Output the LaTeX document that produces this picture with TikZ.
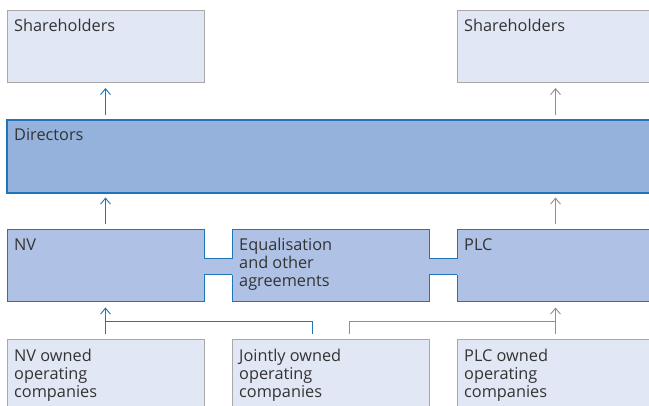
\documentclass[tikz,border=0pt]{standalone}
\usepackage{fontspec}
\setmainfont{Open Sans}
\usetikzlibrary{arrows.meta,calc}
\definecolor{lightfill}{HTML}{E1E7F4}
\definecolor{dirfill}{HTML}{95B2DC}
\definecolor{midfill}{HTML}{AFC2E5}
\definecolor{greybord}{HTML}{A8A8A8}
\definecolor{greyarrow}{HTML}{8F8F8F}
\definecolor{bluebord}{HTML}{1F75BA}
\definecolor{txtcol}{HTML}{333333}
\begin{document}
\begin{tikzpicture}[x=1pt,y=-1pt,
  boxbase/.style={rectangle, anchor=north west, inner sep=0pt, outer sep=0pt, minimum width=197pt, minimum height=72pt},
  lbox/.style={boxbase, draw=greybord, fill=lightfill, line width=1pt},
  mbox/.style={boxbase, draw=bluebord, fill=midfill, line width=1pt},
  dbox/.style={boxbase, draw=bluebord, fill=dirfill, line width=1.2pt, minimum width=647pt, minimum height=73pt},
  txt/.style={anchor=base west, inner sep=0pt, align=left, text=txtcol, font=\fontsize{16.3}{18}\selectfont},
  barrow/.style={draw=bluebord, line width=0.9pt, -{Straight Barb[length=6pt,width=10pt]}},
  garrow/.style={draw=greyarrow, line width=0.9pt, -{Straight Barb[length=6pt,width=10pt]}},
  bline/.style={draw=bluebord, line width=0.9pt},
  gline/.style={draw=greyarrow, line width=0.9pt},
]
\useasboundingbox (0,0) rectangle (649,406);
\clip (0,0) rectangle (649,406);

\node[lbox] (sh1) at (7,11) {};
\node[lbox] (sh2) at (457,11) {};
\node[dbox] (dir) at (7,120) {};
\node[mbox] (nv) at (7,230) {};
\node[mbox] (eq) at (232,230) {};
\node[mbox] (plc) at (457,230) {};
\node[lbox] (nvo) at (7,340) {};
\node[lbox] (jo) at (232,340) {};
\node[lbox] (plco) at (457,340) {};

% channels between the middle boxes
\fill[midfill] ($(nv.east)+(-1,-7)$) rectangle ($(eq.west)+(1,9)$);
\draw[bline, line width=1pt] ($(nv.east)+(0,-7)$) -- ($(eq.west)+(0,-7)$)
  ($(nv.east)+(0,9)$) -- ($(eq.west)+(0,9)$);
\fill[midfill] ($(eq.east)+(-1,-7)$) rectangle ($(plc.west)+(1,9)$);
\draw[bline, line width=1pt] ($(eq.east)+(0,-7)$) -- ($(plc.west)+(0,-7)$)
  ($(eq.east)+(0,9)$) -- ($(plc.west)+(0,9)$);

% texts (the base of a multi-line node is its last line)
\node[txt] (t1) at ($(sh1.north west)+(7,21)$) {Shareholders};
\node[txt] (t2) at ($(sh2.north west)+(7,21)$) {Shareholders};
\node[txt] (t3) at ($(dir.north west)+(7,20.5)$) {Directors};
\node[txt] (t4) at ($(nv.north west)+(7,21)$) {NV};
\node[txt] (t5) at ($(eq.north west)+(7,57)$) {Equalisation\\and other\\agreements};
\node[txt] (t6) at ($(plc.north west)+(7,21)$) {PLC};
\node[txt] (t7) at ($(nvo.north west)+(7,57.5)$) {NV owned\\operating\\companies};
\node[txt] (t8) at ($(jo.north west)+(7,57.5)$) {Jointly owned\\operating\\companies};
\node[txt] (t9) at ($(plco.north west)+(7,57.5)$) {PLC owned\\operating\\companies};

% connectors
\draw[barrow, shorten <=5pt, shorten >=5pt] (dir.north -| sh1.south) -- (sh1.south);
\draw[garrow, shorten <=5pt, shorten >=5pt] (dir.north -| sh2.south) -- (sh2.south);
\draw[barrow, shorten <=5.5pt, shorten >=4.5pt] (nv.north) -- (dir.south -| nv.north);
\draw[garrow, shorten <=5.5pt, shorten >=4.5pt] (plc.north) -- (dir.south -| plc.north);
\draw[barrow, shorten <=6pt, shorten >=5.5pt] (nvo.north) -- (nv.south);
\draw[garrow, shorten <=6pt, shorten >=5.5pt] (plco.north) -- (plc.south);
\coordinate (mid) at ($(nv.south)!0.5!(nvo.north)$);
\draw[bline] ($(jo.north)+(-18.5,-6)$) |- (mid);
\draw[gline] ($(jo.north)+(18.5,-6)$) |- (mid -| plco.north);
\end{tikzpicture}
\end{document}
